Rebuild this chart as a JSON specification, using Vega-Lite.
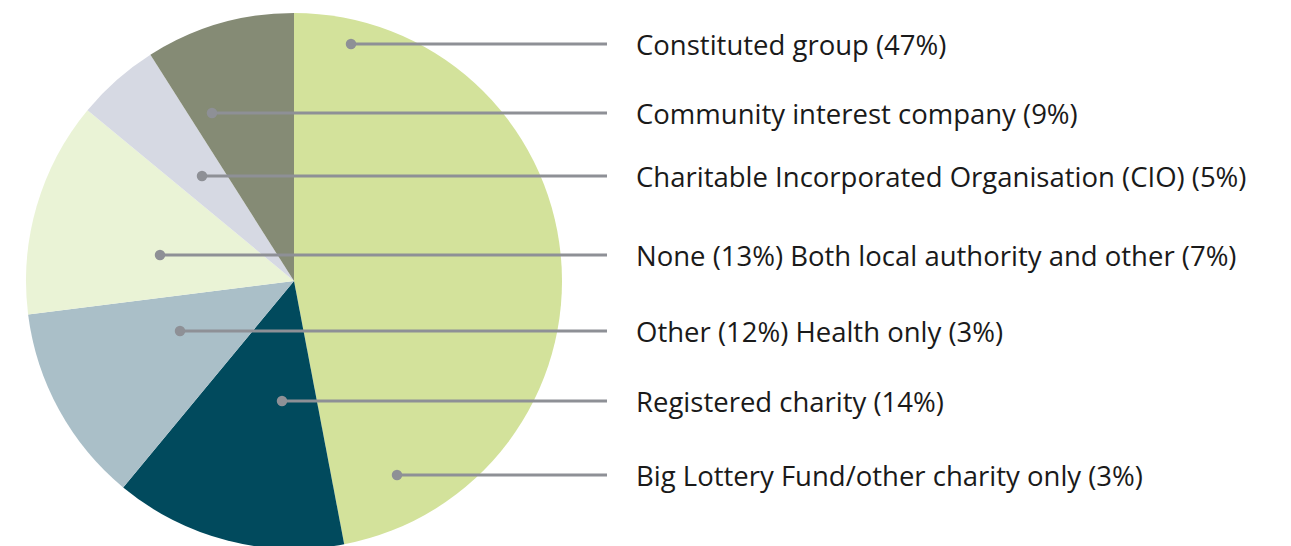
{
  "$schema": "https://vega.github.io/schema/vega-lite/v6.json",
  "width": 1291,
  "height": 546,
  "padding": 0,
  "autosize": {"type": "none"},
  "background": "#ffffff",
  "config": {"view": {"stroke": null}},
  "datasets": {
    "slices": [
      {"idx": 1, "category": "Constituted group", "pct": 47},
      {"idx": 2, "category": "Registered charity", "pct": 14},
      {"idx": 3, "category": "Other", "pct": 12},
      {"idx": 4, "category": "None", "pct": 13},
      {"idx": 5, "category": "Charitable Incorporated Organisation (CIO)", "pct": 5},
      {"idx": 6, "category": "Community interest company", "pct": 9}
    ],
    "labels": [
      {"label": "Constituted group (47%)", "ax": 351, "ay": 44},
      {"label": "Community interest company (9%)", "ax": 212, "ay": 113},
      {"label": "Charitable Incorporated Organisation (CIO) (5%)", "ax": 202, "ay": 176},
      {"label": "None (13%) Both local authority and other (7%)", "ax": 160, "ay": 255},
      {"label": "Other (12%) Health only (3%)", "ax": 180, "ay": 331},
      {"label": "Registered charity (14%)", "ax": 282, "ay": 401},
      {"label": "Big Lottery Fund/other charity only (3%)", "ax": 397, "ay": 475}
    ]
  },
  "layer": [
    {
      "data": {"name": "slices"},
      "mark": {"type": "arc", "x": 294, "y": 281, "outerRadius": 268, "stroke": null},
      "encoding": {
        "theta": {"field": "pct", "type": "quantitative", "stack": true},
        "order": {"field": "idx", "type": "quantitative"},
        "color": {
          "field": "category",
          "type": "nominal",
          "legend": null,
          "scale": {
            "domain": ["Constituted group", "Registered charity", "Other", "None", "Charitable Incorporated Organisation (CIO)", "Community interest company"],
            "range": ["#d3e29b", "#014a5d", "#aabfc8", "#eaf3d6", "#d6d9e3", "#858b75"]
          }
        }
      }
    },
    {
      "data": {"name": "labels"},
      "mark": {"type": "rule", "color": "#8e9096", "strokeWidth": 3},
      "encoding": {
        "x": {"field": "ax", "type": "quantitative", "axis": null, "scale": {"domain": [0, 1291], "range": [0, 1291]}},
        "x2": {"datum": 607},
        "y": {"field": "ay", "type": "quantitative", "axis": null, "scale": {"domain": [0, 546], "range": [0, 546]}}
      }
    },
    {
      "data": {"name": "labels"},
      "mark": {"type": "point", "filled": true, "color": "#8e9096", "opacity": 1, "size": 110},
      "encoding": {
        "x": {"field": "ax", "type": "quantitative", "axis": null, "scale": {"domain": [0, 1291], "range": [0, 1291]}},
        "y": {"field": "ay", "type": "quantitative", "axis": null, "scale": {"domain": [0, 546], "range": [0, 546]}}
      }
    },
    {
      "data": {"name": "labels"},
      "mark": {"type": "text", "align": "left", "baseline": "middle", "font": "Open Sans", "fontSize": 27.5, "color": "#1a1a1a", "dy": 2.5},
      "encoding": {
        "x": {"datum": 636, "type": "quantitative", "axis": null, "scale": {"domain": [0, 1291], "range": [0, 1291]}},
        "y": {"field": "ay", "type": "quantitative", "axis": null, "scale": {"domain": [0, 546], "range": [0, 546]}},
        "text": {"field": "label", "type": "nominal"}
      }
    }
  ]
}
